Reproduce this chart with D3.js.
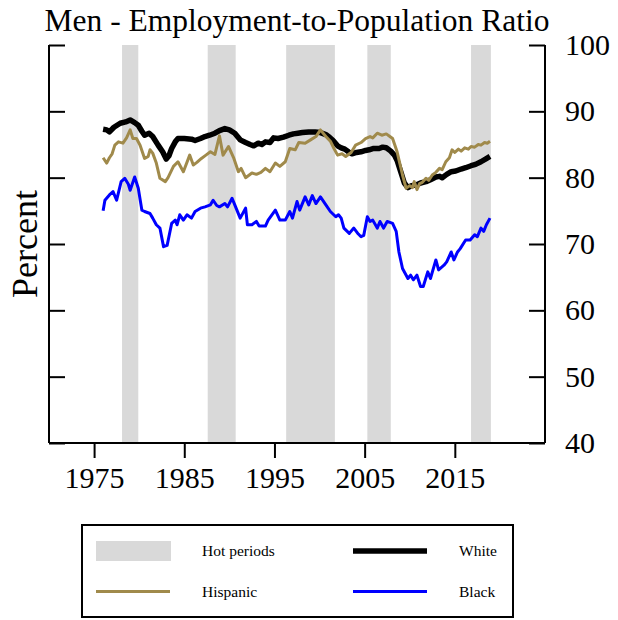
<!DOCTYPE html>
<html>
<head>
<meta charset="utf-8">
<script src="https://cdn.jsdelivr.net/npm/d3@7"></script>
<style>
  body { margin: 0; background: #fff; }
  svg { display: block; font-family: 'Liberation Serif', 'Times New Roman', serif; }
</style>
</head>
<body>
<div id="chart"></div>
<script>
'use strict'

const WIDTH = 618
const HEIGHT = 620

const title = 'Men - Employment-to-Population Ratio'
const yLabel = 'Percent'
const yearTicks = [1975, 1985, 1995, 2005, 2015]
const valueTicks = [40, 50, 60, 70, 80, 90, 100]

// hot periods, [start, end] in decimal years
const hotPeriods = [
  [1978.1, 1979.9],
  [1987.6, 1990.7],
  [1996.3, 2001.7],
  [2005.3, 2007.9],
  [2016.8, 2019.0]
]

// [year, percent]
const whiteSeries = [
  [1976.0, 87.3], [1976.4, 87.2], [1976.7, 86.9], [1977.2, 87.6], [1977.9, 88.2],
  [1978.5, 88.4], [1979.0, 88.7], [1979.5, 88.3], [1979.9, 87.9], [1980.3, 87.0],
  [1980.6, 86.4], [1981.1, 86.7], [1981.5, 86.2], [1982.1, 84.9], [1982.6, 83.9],
  [1983.0, 82.8], [1983.3, 83.3], [1983.6, 84.4], [1984.0, 85.4], [1984.3, 85.9],
  [1985.0, 85.9], [1985.8, 85.8], [1986.2, 85.6], [1986.8, 85.9], [1987.3, 86.2],
  [1987.8, 86.4], [1988.4, 86.7], [1988.9, 87.1], [1989.5, 87.4], [1990.0, 87.2],
  [1990.6, 86.7], [1991.2, 85.7], [1991.8, 85.3], [1992.3, 85.0], [1992.7, 84.8],
  [1993.2, 85.2], [1993.6, 85.0], [1994.0, 85.4], [1994.5, 85.3], [1994.9, 86.0],
  [1995.4, 85.9], [1996.0, 86.1], [1996.6, 86.4], [1997.1, 86.6], [1997.6, 86.7],
  [1998.1, 86.8], [1998.8, 86.9], [1999.5, 86.9], [2000.1, 86.8], [2000.7, 86.5],
  [2001.1, 86.1], [2001.5, 85.6], [2002.0, 84.8], [2002.4, 84.5], [2002.8, 84.3],
  [2003.2, 83.9], [2003.6, 83.6], [2004.1, 83.8], [2004.6, 83.9], [2005.1, 84.1],
  [2005.5, 84.2], [2006.0, 84.4], [2006.6, 84.4], [2007.0, 84.6], [2007.4, 84.5],
  [2007.9, 84.0], [2008.3, 83.4], [2008.6, 82.6], [2009.0, 80.9], [2009.4, 79.2],
  [2009.8, 78.5], [2010.2, 78.8], [2010.7, 78.9], [2011.2, 79.2], [2011.8, 79.4],
  [2012.3, 79.7], [2012.9, 80.1], [2013.3, 80.2], [2013.6, 80.0], [2014.1, 80.5],
  [2014.6, 80.9], [2015.1, 81.0], [2015.7, 81.3], [2016.2, 81.5], [2016.8, 81.8],
  [2017.3, 82.0], [2017.9, 82.4], [2018.4, 82.8], [2018.9, 83.2]
]

const hispanicSeries = [
  [1976.0, 83.0], [1976.4, 82.2], [1976.7, 83.0], [1977.0, 83.6], [1977.3, 84.9],
  [1977.7, 85.4], [1978.2, 85.2], [1978.6, 86.0], [1979.0, 87.2], [1979.3, 85.9],
  [1979.7, 85.9], [1980.1, 84.9], [1980.6, 82.9], [1981.0, 83.2], [1981.2, 84.2],
  [1981.5, 83.7], [1981.9, 82.2], [1982.3, 79.9], [1982.9, 79.4], [1983.2, 80.0],
  [1983.8, 81.7], [1984.3, 82.4], [1984.9, 80.9], [1985.6, 83.4], [1986.0, 81.9],
  [1986.4, 82.3], [1986.9, 82.9], [1987.4, 83.4], [1987.9, 83.9], [1988.4, 83.5],
  [1988.9, 86.3], [1989.3, 83.4], [1989.9, 84.7], [1990.5, 82.9], [1991.0, 80.9],
  [1991.3, 81.4], [1991.8, 80.0], [1992.5, 80.7], [1993.0, 80.5], [1993.5, 80.8],
  [1994.0, 81.4], [1994.5, 80.9], [1995.1, 82.2], [1995.6, 81.7], [1996.2, 82.4],
  [1996.7, 84.4], [1997.3, 84.2], [1997.7, 85.3], [1998.4, 85.2], [1999.0, 85.7],
  [1999.6, 86.2], [2000.1, 87.2], [2000.7, 86.2], [2001.2, 85.5], [2001.6, 84.4],
  [2002.0, 83.4], [2002.5, 83.6], [2002.9, 83.2], [2003.5, 83.8], [2004.0, 84.9],
  [2004.6, 85.3], [2005.1, 85.9], [2005.6, 86.2], [2005.9, 86.0], [2006.4, 86.7],
  [2006.9, 86.4], [2007.4, 86.6], [2007.8, 86.2], [2008.1, 85.9], [2008.6, 83.9],
  [2009.2, 80.4], [2009.6, 78.4], [2010.0, 78.8], [2010.3, 78.5], [2010.5, 79.4],
  [2010.8, 78.2], [2011.1, 79.1], [2011.4, 79.3], [2011.8, 79.9], [2012.1, 79.6],
  [2012.5, 80.4], [2012.9, 80.8], [2013.3, 81.4], [2013.6, 81.2], [2014.0, 82.4],
  [2014.4, 83.0], [2014.7, 84.2], [2015.0, 83.8], [2015.4, 84.3], [2015.7, 84.0],
  [2016.1, 84.5], [2016.5, 84.3], [2016.8, 84.7], [2017.2, 84.6], [2017.6, 85.0],
  [2017.9, 84.9], [2018.3, 85.3], [2018.6, 85.2], [2018.9, 85.5]
]

const blackSeries = [
  [1976.0, 75.0], [1976.2, 76.6], [1976.7, 77.4], [1977.1, 77.9], [1977.5, 76.6],
  [1978.0, 79.4], [1978.4, 79.9], [1978.8, 79.0], [1979.0, 78.1], [1979.5, 80.1],
  [1979.9, 78.4], [1980.3, 75.1], [1980.6, 74.9], [1981.2, 74.6], [1981.5, 73.9],
  [1981.9, 72.9], [1982.3, 72.4], [1982.7, 69.6], [1983.1, 69.8], [1983.6, 73.1],
  [1984.0, 73.6], [1984.2, 72.9], [1984.5, 74.4], [1984.9, 73.6], [1985.3, 74.4],
  [1985.8, 73.9], [1986.2, 74.9], [1986.8, 75.4], [1987.3, 75.6], [1987.9, 75.9],
  [1988.2, 76.6], [1988.6, 75.8], [1988.9, 75.6], [1989.5, 76.1], [1989.8, 75.6],
  [1990.3, 76.9], [1990.6, 75.9], [1991.2, 73.9], [1991.8, 75.4], [1992.0, 72.9],
  [1992.5, 72.9], [1993.0, 73.4], [1993.3, 72.7], [1994.0, 72.7], [1994.3, 73.6],
  [1995.1, 75.1], [1995.6, 73.6], [1996.2, 73.6], [1996.7, 74.9], [1997.0, 73.9],
  [1997.5, 76.4], [1997.8, 75.1], [1998.4, 77.1], [1998.8, 75.9], [1999.2, 77.3],
  [1999.6, 76.1], [2000.1, 77.1], [2000.7, 75.9], [2001.2, 74.9], [2001.8, 74.1],
  [2002.1, 74.4], [2002.4, 73.9], [2002.7, 72.4], [2003.3, 71.6], [2003.8, 72.4],
  [2004.3, 71.5], [2004.6, 71.1], [2004.9, 71.3], [2005.3, 74.1], [2005.6, 73.4],
  [2005.9, 73.6], [2006.4, 72.4], [2006.7, 73.4], [2007.1, 72.4], [2007.5, 73.4],
  [2008.1, 73.1], [2008.5, 71.9], [2008.8, 68.8], [2009.2, 66.3], [2009.8, 64.8],
  [2010.1, 65.3], [2010.4, 64.6], [2010.8, 65.3], [2011.2, 63.6], [2011.5, 63.6],
  [2012.0, 65.8], [2012.3, 64.8], [2012.9, 67.6], [2013.2, 66.1], [2013.8, 66.8],
  [2014.1, 67.3], [2014.6, 68.8], [2014.9, 67.6], [2015.3, 68.8], [2015.6, 69.3],
  [2016.2, 70.6], [2016.7, 70.6], [2017.2, 71.4], [2017.5, 71.1], [2017.9, 72.4],
  [2018.2, 71.9], [2018.5, 72.9], [2018.9, 73.9]
]

const bandColor = '#d9d9d9'
const series = [
  { name: 'White', data: whiteSeries, color: '#000000', width: 5.5 },
  { name: 'Hispanic', data: hispanicSeries, color: '#a08a4b', width: 3 },
  { name: 'Black', data: blackSeries, color: '#0000ff', width: 3 }
]

const plot = { left: 49, right: 545, top: 45, bottom: 443 }

function main () {
  const svg = d3.select('#chart')
    .append('svg')
    .attr('width', WIDTH)
    .attr('height', HEIGHT)

  const x = d3.scaleLinear().domain([1970, 2025]).range([plot.left, plot.right])
  const y = d3.scaleLinear().domain([40, 100]).range([plot.bottom, plot.top])

  // hot periods
  svg.append('g')
    .selectAll('rect')
    .data(hotPeriods)
    .enter()
    .append('rect')
    .attr('x', (d) => x(d[0]))
    .attr('width', (d) => x(d[1]) - x(d[0]))
    .attr('y', plot.top)
    .attr('height', plot.bottom - plot.top)
    .attr('fill', bandColor)

  const line = d3.line()
    .x((d) => x(d[0]))
    .y((d) => y(d[1]))

  series.forEach((s) => {
    svg.append('path')
      .datum(s.data)
      .attr('d', line)
      .attr('fill', 'none')
      .attr('stroke', s.color)
      .attr('stroke-width', s.width)
      .attr('stroke-linejoin', 'round')
  })

  // bottom axis, ticks outward
  const bottom = svg.append('g')
    .attr('transform', `translate(0,${plot.bottom})`)
    .call(d3.axisBottom(x).tickValues(yearTicks).tickFormat(d3.format('d')).tickSize(15).tickPadding(9))
  bottom.select('.domain').attr('d', `M${plot.left},0H${plot.right}`)

  // left axis, ticks inward, no labels
  svg.append('g')
    .attr('transform', `translate(${plot.left},0)`)
    .call(d3.axisRight(y).tickValues(valueTicks).tickFormat('').tickSize(16).tickSizeOuter(0))
    .select('.domain').attr('d', `M0,${plot.top}V${plot.bottom}`)

  // right axis, ticks inward, labels outside
  const right = svg.append('g')
    .attr('transform', `translate(${plot.right},0)`)
    .call(d3.axisLeft(y).tickValues(valueTicks).tickSize(16).tickSizeOuter(0))
  right.select('.domain').attr('d', `M0,${plot.top}V${plot.bottom}`)
  right.selectAll('.tick text')
    .attr('x', 20)
    .attr('text-anchor', 'start')

  svg.selectAll('.domain, .tick line')
    .attr('stroke', '#000')
    .attr('stroke-width', 2)
  svg.selectAll('.tick text')
    .attr('font-size', 30)
    .attr('font-family', "'Liberation Serif', 'Times New Roman', serif")
    .attr('fill', '#000')

  svg.append('text')
    .attr('x', (plot.left + plot.right) / 2)
    .attr('y', 31)
    .attr('text-anchor', 'middle')
    .attr('font-size', 31.5)
    .text(title)

  svg.append('text')
    .attr('transform', `translate(37,${(plot.top + plot.bottom) / 2}) rotate(-90)`)
    .attr('text-anchor', 'middle')
    .attr('font-size', 36)
    .text(yLabel)

  // legend
  const legend = svg.append('g')
  legend.append('rect')
    .attr('x', 82).attr('y', 525)
    .attr('width', 431).attr('height', 92)
    .attr('fill', '#fff')
    .attr('stroke', '#000')
    .attr('stroke-width', 2)

  const legendItems = [
    { label: 'Hot periods', col: 0, row: 0, band: true },
    { label: 'White', col: 1, row: 0, s: series[0] },
    { label: 'Hispanic', col: 0, row: 1, s: series[1] },
    { label: 'Black', col: 1, row: 1, s: series[2] }
  ]
  const colX = [96, 353]
  const rowY = [551, 591.5]
  legendItems.forEach((item) => {
    const lx = colX[item.col]
    const ly = rowY[item.row]
    if (item.band) {
      legend.append('rect')
        .attr('x', lx).attr('y', ly - 10)
        .attr('width', 75).attr('height', 20)
        .attr('fill', bandColor)
    } else {
      legend.append('line')
        .attr('x1', lx).attr('x2', lx + 74)
        .attr('y1', ly).attr('y2', ly)
        .attr('stroke', item.s.color)
        .attr('stroke-width', item.s.width)
    }
    legend.append('text')
      .attr('x', lx + 106)
      .attr('y', ly + 5)
      .attr('font-size', 15.5)
      .text(item.label)
  })
}

main()
</script>
</body>
</html>
